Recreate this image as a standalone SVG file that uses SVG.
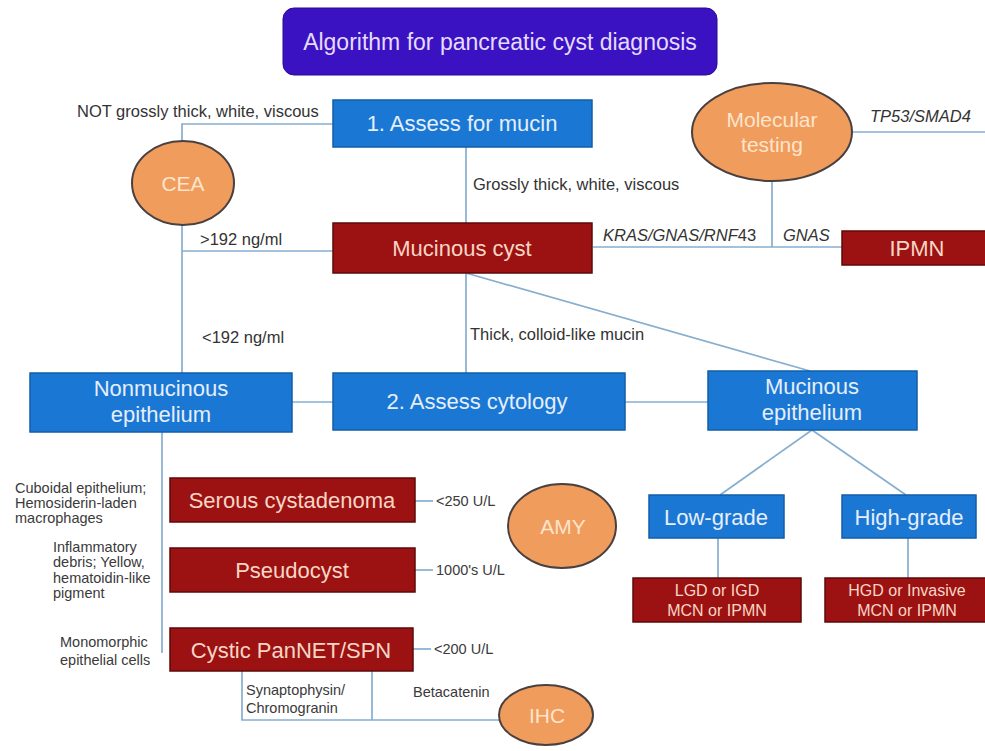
<svg xmlns="http://www.w3.org/2000/svg" width="985" height="751" viewBox="0 0 985 751">
<defs>
<style>
.bg{fill:#ffffff}
.title{fill:#3b12c2;stroke:#2a0a90;stroke-width:1}
.blue{fill:#1a78d4;stroke:#125ea8;stroke-width:1.5}
.red{fill:#9c1212;stroke:#5e0808;stroke-width:1.5}
.oval{fill:#f09c5c;stroke:#4a4040;stroke-width:2}
.tt{font-family:"Liberation Sans",Arial,sans-serif;font-size:23px;fill:#e4dcff;text-anchor:middle}
.bt{font-family:"Liberation Sans",Arial,sans-serif;font-size:22px;fill:#e6eefa;text-anchor:middle}
.rt{font-family:"Liberation Sans",Arial,sans-serif;font-size:22px;fill:#f8d6c6;text-anchor:middle}
.rs{font-family:"Liberation Sans",Arial,sans-serif;font-size:16px;fill:#f8d6c6;text-anchor:middle}
.ot{font-family:"Liberation Sans",Arial,sans-serif;font-size:21px;fill:#fde4cc;text-anchor:middle}
.lb{font-family:"Liberation Sans",Arial,sans-serif;font-size:16.5px;fill:#333333}
.it{font-style:italic}
.sm{font-family:"Liberation Sans",Arial,sans-serif;font-size:14.5px;fill:#3a3a3a}
.ln{fill:none;stroke:#86aecf;stroke-width:1.7}
</style>
<radialGradient id="warm" cx="0.1" cy="0.9" r="0.6">
<stop offset="0" stop-color="#fdf3e4"/>
<stop offset="1" stop-color="#ffffff"/>
</radialGradient>
</defs>
<rect class="bg" x="0" y="0" width="985" height="751" fill="url(#warm)"/>

<g id="connectors">
<polyline class="ln" points="333,124 182,124 182,142"/>
<polyline class="ln" points="182,225 182,373"/>
<line class="ln" x1="182" y1="251" x2="333" y2="251"/>
<line class="ln" x1="466" y1="147" x2="466" y2="223"/>
<line class="ln" x1="593" y1="247" x2="842" y2="247"/>
<line class="ln" x1="772" y1="181" x2="772" y2="247"/>
<line class="ln" x1="852" y1="132" x2="985" y2="132"/>
<line class="ln" x1="466" y1="273" x2="466" y2="373"/>
<line class="ln" x1="466" y1="273" x2="810" y2="371"/>
<line class="ln" x1="292" y1="402" x2="333" y2="402"/>
<line class="ln" x1="625" y1="402" x2="708" y2="402"/>
<line class="ln" x1="812" y1="430" x2="720" y2="495"/>
<line class="ln" x1="812" y1="430" x2="906" y2="495"/>
<line class="ln" x1="718" y1="538" x2="718" y2="578"/>
<line class="ln" x1="908" y1="538" x2="908" y2="578"/>
<line class="ln" x1="162" y1="432" x2="162" y2="653"/>
<line class="ln" x1="415" y1="501" x2="433" y2="501"/>
<line class="ln" x1="415" y1="570" x2="433" y2="570"/>
<line class="ln" x1="413" y1="649" x2="431" y2="649"/>
<polyline class="ln" points="242,671 242,720 500,720"/>
<line class="ln" x1="372" y1="671" x2="372" y2="720"/>
</g>

<g id="edge-labels">
<text class="lb" x="77" y="117">NOT grossly thick, white, viscous</text>
<text class="lb" x="473" y="190">Grossly thick, white, viscous</text>
<text class="lb" x="200" y="245">&gt;192 ng/ml</text>
<text class="lb" x="202" y="343">&lt;192 ng/ml</text>
<text class="lb" x="470" y="340">Thick, colloid-like mucin</text>
<text class="lb" x="603" y="241"><tspan class="it">KRAS/GNAS/RNF</tspan>43</text>
<text class="lb it" x="783" y="241">GNAS</text>
<text class="lb it" x="870" y="122">TP53/SMAD4</text>
<text class="sm" x="436" y="506">&lt;250 U/L</text>
<text class="sm" x="436" y="575">1000's U/L</text>
<text class="sm" x="434" y="654">&lt;200 U/L</text>
<text class="sm" x="15" y="493">Cuboidal epithelium;</text>
<text class="sm" x="15" y="508">Hemosiderin-laden</text>
<text class="sm" x="15" y="523">macrophages</text>
<text class="sm" x="53" y="552">Inflammatory</text>
<text class="sm" x="53" y="567">debris; Yellow,</text>
<text class="sm" x="53" y="583">hematoidin-like</text>
<text class="sm" x="53" y="598">pigment</text>
<text class="sm" x="60" y="647">Monomorphic</text>
<text class="sm" x="60" y="665">epithelial cells</text>
<text class="sm" x="246" y="695">Synaptophysin/</text>
<text class="sm" x="246" y="713">Chromogranin</text>
<text class="sm" x="413" y="697">Betacatenin</text>
</g>

<g id="title">
<rect class="title" x="283" y="8" width="434" height="67" rx="11"/>
<text class="tt" x="500" y="50">Algorithm for pancreatic cyst diagnosis</text>
</g>

<g id="assess-mucin">
<rect class="blue" x="333" y="100" width="259" height="47"/>
<text class="bt" x="462" y="131">1. Assess for mucin</text>
</g>

<g id="cea">
<ellipse class="oval" cx="183" cy="183" rx="51" ry="42"/>
<text class="ot" x="183" y="191">CEA</text>
</g>

<g id="molecular-testing">
<ellipse class="oval" cx="772" cy="132" rx="80" ry="49"/>
<text class="ot" x="772" y="127">Molecular</text>
<text class="ot" x="772" y="152">testing</text>
</g>

<g id="mucinous-cyst">
<rect class="red" x="333" y="223" width="259" height="50"/>
<text class="rt" x="462" y="256">Mucinous cyst</text>
</g>

<g id="ipmn">
<rect class="red" x="842" y="231" width="145" height="34"/>
<text class="rt" x="917" y="256">IPMN</text>
</g>

<g id="nonmucinous-epithelium">
<rect class="blue" x="30" y="373" width="262" height="59"/>
<text class="bt" x="161" y="396">Nonmucinous</text>
<text class="bt" x="161" y="422">epithelium</text>
</g>

<g id="assess-cytology">
<rect class="blue" x="333" y="373" width="292" height="57"/>
<text class="bt" x="477" y="409">2. Assess cytology</text>
</g>

<g id="mucinous-epithelium">
<rect class="blue" x="708" y="371" width="209" height="59"/>
<text class="bt" x="812" y="394">Mucinous</text>
<text class="bt" x="812" y="420">epithelium</text>
</g>

<g id="low-grade">
<rect class="blue" x="649" y="495" width="135" height="43"/>
<text class="bt" x="716" y="525">Low-grade</text>
</g>

<g id="high-grade">
<rect class="blue" x="842" y="495" width="134" height="43"/>
<text class="bt" x="909" y="525">High-grade</text>
</g>

<g id="lgd">
<rect class="red" x="633" y="578" width="168" height="44"/>
<text class="rs" x="717" y="596">LGD or IGD</text>
<text class="rs" x="717" y="616">MCN or IPMN</text>
</g>

<g id="hgd">
<rect class="red" x="825" y="578" width="162" height="44"/>
<text class="rs" x="907" y="596">HGD or Invasive</text>
<text class="rs" x="907" y="616">MCN or IPMN</text>
</g>

<g id="serous-cystadenoma">
<rect class="red" x="170" y="478" width="245" height="44"/>
<text class="rt" x="292" y="508">Serous cystadenoma</text>
</g>

<g id="pseudocyst">
<rect class="red" x="170" y="548" width="245" height="44"/>
<text class="rt" x="292" y="578">Pseudocyst</text>
</g>

<g id="amy">
<ellipse class="oval" cx="562" cy="526" rx="54" ry="42"/>
<text class="ot" x="563" y="534">AMY</text>
</g>

<g id="cystic-pannet">
<rect class="red" x="170" y="628" width="243" height="43"/>
<text class="rt" x="291" y="658">Cystic PanNET/SPN</text>
</g>

<g id="ihc">
<ellipse class="oval" cx="546" cy="715" rx="47" ry="30"/>
<text class="ot" x="547" y="723">IHC</text>
</g>
</svg>
